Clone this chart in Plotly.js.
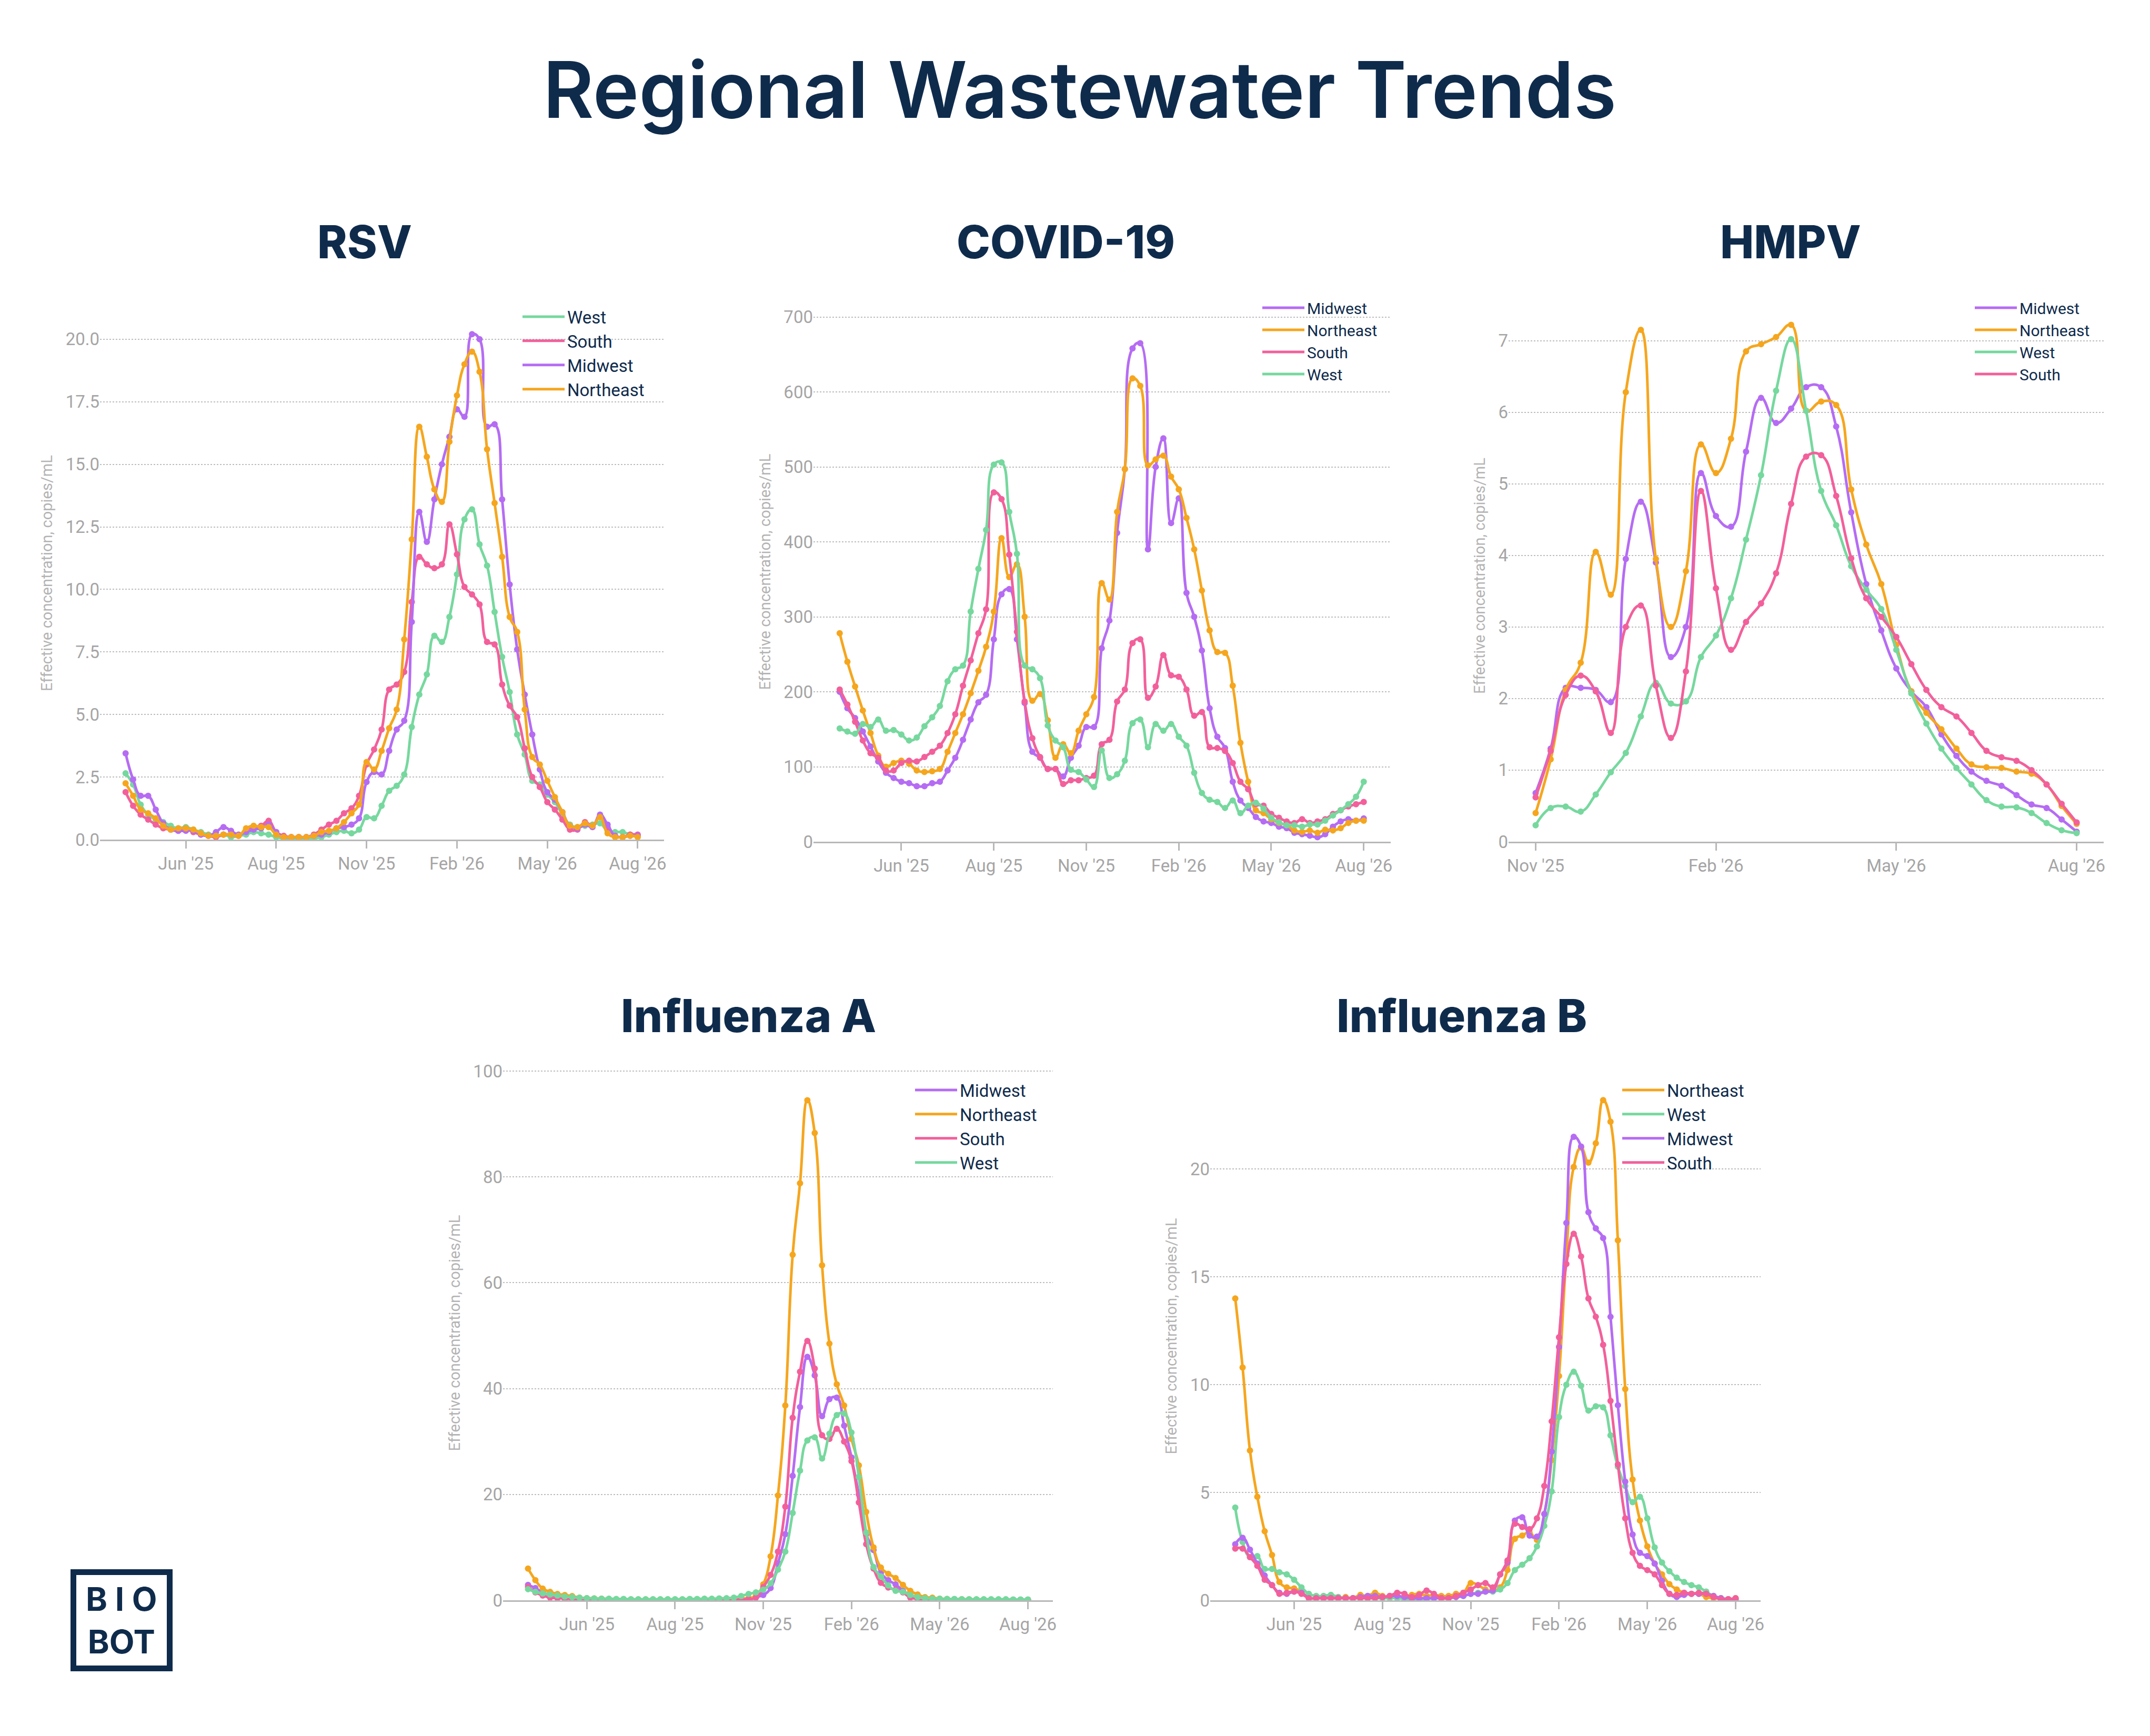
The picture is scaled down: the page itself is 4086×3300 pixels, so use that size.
<!DOCTYPE html>
<html>
<head>
<meta charset="utf-8">
<script src="https://cdn.plot.ly/plotly-3.0.1.min.js"></script>
<style>html,body{margin:0;padding:0;background:#fff}</style>
</head>
<body>
<div id="chart" style="width:4086px;height:3300px"></div>
<script>
var W = 4086, H = 3300;
var NAVY = '#0f2b4c';
var GREY = '#a5a5a5';
var AXIS = '#b8b8b8';
var colors = {West: '#76d89e', South: '#f2609b', Midwest: '#b56cf3', Northeast: '#f5a61e'};

// weekly sample dates, first sample on 2025-04-06
function weekDate(i) {
  var d = new Date(Date.UTC(2025, 3, 6) + i * 7 * 86400000);
  return d.toISOString().replace('T', ' ').slice(0, 19);
}
var weeks = [];
for (var i = 0; i < 69; i++) weeks.push(weekDate(i).slice(0, 10));
var hmpvWeeks = weeks.slice(32);

var tickWeeks = [8, 20, 32, 44, 56, 68];
var tickLabels = ["Jun '25", "Aug '25", "Nov '25", "Feb '26", "May '26", "Aug '26"];
var hmpvTickWeeks = [32, 44, 56, 68];
var hmpvTickLabels = ["Nov '25", "Feb '26", "May '26", "Aug '26"];

// ---- RSV ----
var rsvWest = [2.65,2.2,1.4,1.0,0.8,0.7,0.55,0.45,0.5,0.4,
  0.3,0.2,0.15,0.2,0.1,0.15,0.2,0.3,0.25,0.2,
  0.1,0.05,0.05,0.05,0.05,0.05,0.1,0.2,0.3,0.35,
  0.25,0.4,0.9,0.85,1.35,1.95,2.15,2.6,4.5,5.8,
  6.6,8.15,7.9,8.9,10.6,12.8,13.2,11.8,10.95,9.1,
  7.3,5.9,4.2,3.4,2.35,2.2,1.8,1.5,1.0,0.6,
  0.5,0.55,0.6,0.65,0.35,0.3,0.3,0.2,0.15];
var rsvSouth = [1.9,1.35,1.0,0.8,0.6,0.45,0.4,0.35,0.45,0.3,
  0.2,0.15,0.1,0.2,0.2,0.15,0.4,0.5,0.55,0.75,
  0.3,0.15,0.1,0.1,0.1,0.2,0.4,0.6,0.75,1.05,
  1.25,1.75,3.0,3.6,4.4,6.0,6.2,6.7,9.5,11.3,
  11.0,10.85,11.0,12.6,11.4,10.1,9.8,9.4,7.9,7.8,
  6.2,5.35,4.9,3.65,2.5,2.1,1.5,1.2,0.8,0.4,
  0.4,0.7,0.55,0.95,0.5,0.15,0.1,0.2,0.2];
var rsvMidwest = [3.45,2.4,1.75,1.75,1.2,0.65,0.4,0.35,0.35,0.35,
  0.2,0.15,0.3,0.5,0.35,0.2,0.3,0.4,0.45,0.6,
  0.3,0.1,0.1,0.1,0.1,0.15,0.2,0.3,0.45,0.5,
  0.6,0.85,2.3,2.7,2.6,3.55,4.4,4.75,8.7,13.1,
  11.9,13.6,15.0,16.1,17.2,16.9,20.2,20.0,16.5,16.6,
  13.6,10.2,7.6,5.8,4.2,2.8,1.9,1.6,1.1,0.55,
  0.45,0.6,0.5,1.0,0.6,0.15,0.1,0.15,0.15];
var rsvNortheast = [2.25,1.75,1.2,1.05,0.85,0.55,0.4,0.45,0.45,0.4,
  0.25,0.15,0.15,0.2,0.2,0.15,0.45,0.55,0.5,0.5,
  0.2,0.1,0.1,0.1,0.1,0.15,0.3,0.35,0.45,0.7,
  1.05,1.4,3.1,2.8,3.55,4.45,5.2,8.0,12.0,16.5,
  15.3,14.0,13.5,15.9,17.75,19.0,19.5,18.7,15.6,13.45,
  11.3,8.9,8.3,5.2,3.3,3.0,2.35,1.7,1.1,0.55,
  0.5,0.65,0.55,0.9,0.25,0.1,0.1,0.15,0.1];

// ---- COVID-19 ----
var covMidwest = [200,178,165,147,127,107,92,85,80,78,
  74,74,78,80,95,112,136,163,186,196,
  270,330,337,270,185,120,112,97,97,87,
  112,128,153,153,258,295,412,497,658,665,
  390,500,538,425,458,332,300,255,178,140,
  125,80,55,45,33,27,25,20,18,12,
  10,8,6,10,20,27,30,28,31];
var covNortheast = [278,240,207,175,145,115,100,105,108,104,
  95,93,94,97,120,145,170,198,228,260,
  307,405,353,370,300,188,197,162,112,130,
  118,148,170,193,345,323,440,497,618,608,
  502,510,515,487,470,432,390,335,282,253,
  252,208,132,80,42,38,30,25,22,15,
  13,15,12,16,15,18,25,28,28];
var covSouth = [203,183,160,135,118,112,95,95,105,108,
  107,113,120,128,145,170,208,242,278,310,
  466,457,383,280,187,138,113,97,97,77,
  82,82,85,88,130,136,187,203,265,270,
  192,207,249,222,220,203,168,173,126,125,
  121,105,80,70,50,48,37,32,27,25,
  30,25,27,30,37,42,47,50,53];
var covWest = [151,147,144,157,153,163,148,149,143,135,
  139,154,166,181,214,230,235,307,364,416,
  503,506,440,384,235,230,218,155,135,126,
  96,93,83,73,122,85,90,108,158,163,
  126,157,148,157,140,128,92,65,56,53,
  45,55,38,48,52,44,32,26,22,22,
  20,23,23,28,35,42,50,60,80];

// ---- HMPV (from Nov '25) ----
var hmpvMidwest = [0.68,1.3,2.15,2.15,2.12,1.95,3.95,4.75,3.9,2.58,
  3.0,5.15,4.55,4.4,5.45,6.2,5.85,6.05,6.35,6.35,
  5.8,4.6,3.6,2.95,2.42,2.1,1.88,1.5,1.2,0.98,
  0.85,0.78,0.65,0.52,0.47,0.31,0.14];
var hmpvNortheast = [0.4,1.15,2.12,2.5,4.05,3.45,6.28,7.15,3.95,3.0,
  3.78,5.55,5.15,5.63,6.85,6.95,7.05,7.22,6.02,6.15,
  6.1,4.92,4.15,3.6,2.75,2.1,1.8,1.57,1.3,1.08,
  1.04,1.03,0.98,0.95,0.8,0.5,0.25];
var hmpvWest = [0.23,0.47,0.49,0.42,0.66,0.97,1.24,1.75,2.22,1.93,
  1.96,2.58,2.88,3.4,4.22,5.12,6.3,7.02,6.02,4.9,
  4.42,3.85,3.52,3.25,2.68,2.07,1.65,1.3,1.03,0.8,
  0.58,0.49,0.48,0.4,0.26,0.16,0.12];
var hmpvSouth = [0.62,1.27,2.05,2.32,2.1,1.52,3.0,3.3,2.18,1.45,
  2.38,4.9,3.54,2.68,3.07,3.33,3.75,4.72,5.38,5.4,
  4.83,3.96,3.4,3.14,2.86,2.48,2.12,1.88,1.75,1.52,
  1.27,1.18,1.13,1.0,0.8,0.53,0.27];

// ---- Influenza A ----
var fluAMidwest = [2.9,2.3,1.5,1.0,0.8,0.5,0.4,0.4,0.3,0.2,
  0.2,0.15,0.15,0.1,0.1,0.1,0.1,0.1,0.1,0.1,
  0.1,0.1,0.15,0.15,0.2,0.2,0.2,0.2,0.2,0.25,
  0.3,0.6,1.0,2.3,7.0,12.5,23.5,36.5,46.0,42.5,
  34.8,38.0,38.3,33.0,27.0,20.0,12.5,9.5,5.2,3.8,
  3.0,1.8,1.0,0.5,0.4,0.3,0.25,0.2,0.2,0.15,
  0.15,0.1,0.1,0.1,0.1,0.1,0.1,0.1,0.1];
var fluANortheast = [6.0,3.8,2.2,1.6,1.2,1.0,0.8,0.5,0.4,0.35,
  0.3,0.25,0.2,0.2,0.15,0.15,0.15,0.15,0.15,0.15,
  0.15,0.15,0.2,0.2,0.2,0.2,0.25,0.25,0.3,0.35,
  0.4,0.9,3.0,8.3,19.8,36.8,65.3,78.8,94.5,88.3,
  63.3,48.5,40.8,36.8,30.5,25.5,16.7,10.0,6.2,5.0,
  4.2,2.9,1.8,1.1,0.6,0.5,0.3,0.25,0.2,0.2,
  0.15,0.15,0.1,0.1,0.1,0.1,0.1,0.1,0.1];
var fluASouth = [2.5,1.5,0.9,0.5,0.4,0.3,0.25,0.2,0.2,0.15,
  0.15,0.1,0.1,0.1,0.1,0.1,0.1,0.1,0.1,0.1,
  0.1,0.1,0.1,0.1,0.1,0.1,0.1,0.1,0.1,0.15,
  0.2,0.5,2.5,4.8,9.2,17.7,34.5,43.2,49.0,43.8,
  31.2,30.5,32.4,30.0,26.3,18.5,10.6,6.0,3.3,2.4,
  2.0,1.5,0.5,0.3,0.2,0.2,0.15,0.1,0.1,0.1,
  0.1,0.1,0.1,0.1,0.1,0.1,0.1,0.1,0.1];
var fluAWest = [2.1,1.6,1.3,1.1,0.9,0.7,0.6,0.5,0.4,0.35,
  0.3,0.3,0.25,0.25,0.2,0.2,0.2,0.2,0.2,0.2,
  0.2,0.2,0.25,0.25,0.3,0.3,0.35,0.4,0.5,0.8,
  1.2,1.5,2.0,3.2,5.8,9.2,16.5,24.5,30.2,30.8,
  26.8,31.5,35.0,35.3,31.7,23.3,12.8,6.3,4.5,2.8,
  1.8,1.6,1.0,0.6,0.4,0.3,0.3,0.25,0.25,0.2,
  0.2,0.2,0.2,0.2,0.2,0.2,0.15,0.15,0.15];

// ---- Influenza B ----
var fluBNortheast = [14.0,10.8,6.95,4.8,3.2,2.1,0.85,0.6,0.55,0.4,
  0.1,0.1,0.15,0.1,0.1,0.15,0.1,0.25,0.2,0.35,
  0.2,0.15,0.2,0.15,0.25,0.3,0.2,0.25,0.2,0.2,
  0.3,0.35,0.8,0.7,0.5,0.45,0.6,1.4,2.85,3.0,
  3.15,2.8,4.0,6.5,10.4,16.0,20.1,21.0,20.3,21.2,
  23.2,22.2,16.7,9.8,5.6,3.7,2.5,1.7,1.2,0.75,
  0.5,0.35,0.3,0.3,0.15,0.1,0.1,0.05,0.1];
var fluBWest = [4.3,2.7,2.0,2.05,1.45,1.45,1.3,1.2,0.95,0.6,
  0.3,0.2,0.2,0.25,0.15,0.1,0.1,0.1,0.1,0.1,
  0.1,0.1,0.1,0.05,0.05,0.05,0.05,0.1,0.1,0.1,
  0.15,0.2,0.3,0.35,0.4,0.4,0.5,0.8,1.4,1.65,
  1.95,2.5,3.45,5.05,8.5,10.0,10.6,9.95,8.8,9.0,
  8.95,7.65,6.2,5.3,4.55,4.8,3.8,2.45,1.75,1.35,
  1.05,0.85,0.7,0.6,0.4,0.2,0.1,0.05,0.05];
var fluBMidwest = [2.6,2.9,2.35,1.7,1.15,0.7,0.35,0.3,0.4,0.35,
  0.1,0.1,0.1,0.1,0.1,0.1,0.1,0.15,0.2,0.2,
  0.15,0.2,0.2,0.15,0.1,0.1,0.1,0.1,0.1,0.1,
  0.15,0.2,0.3,0.3,0.4,0.45,1.2,1.75,3.7,3.85,
  3.0,2.95,4.0,6.9,11.75,17.5,21.5,21.05,18.0,17.25,
  16.8,13.15,9.05,5.5,3.05,2.2,2.05,1.7,0.9,0.3,
  0.15,0.25,0.3,0.3,0.3,0.2,0.1,0.05,0.05];
var fluBSouth = [2.4,2.4,2.0,1.6,0.95,0.7,0.3,0.35,0.4,0.3,
  0.1,0.1,0.1,0.1,0.1,0.1,0.1,0.1,0.1,0.1,
  0.15,0.2,0.35,0.3,0.15,0.25,0.45,0.3,0.1,0.1,
  0.2,0.35,0.5,0.7,0.8,0.6,1.2,1.85,3.55,3.4,
  3.3,3.8,5.3,8.3,12.2,15.6,17.0,15.95,14.0,13.15,
  11.85,9.25,6.3,3.8,2.2,1.6,1.4,1.2,0.7,0.3,
  0.25,0.35,0.3,0.35,0.3,0.15,0.05,0.05,0.1];

// panel placement in pixels: box = [left, right, top, bottom]
var charts = [
  {title: 'RSV', x: weeks, box: [190, 1262, 583, 1596], yrange: [0, 21.3], dtick: 2.5, fmt: '.1f',
   xr: [-3.4, 71.5], ticks: tickWeeks, labels: tickLabels, titleAt: [693, 460],
   legendAt: [988, 574], legendSize: 33,
   series: [['West', rsvWest], ['South', rsvSouth], ['Midwest', rsvMidwest], ['Northeast', rsvNortheast]]},
  {title: 'COVID-19', x: weeks, box: [1546, 2643, 574, 1600], yrange: [0, 720], dtick: 100, fmt: 'd',
   xr: [-3.4, 71.5], ticks: tickWeeks, labels: tickLabels, titleAt: [2025, 460],
   legendAt: [2394, 559], legendSize: 30,
   series: [['Midwest', covMidwest], ['Northeast', covNortheast], ['South', covSouth], ['West', covWest]]},
  {title: 'HMPV', x: hmpvWeeks, box: [2867, 3998, 589, 1600], yrange: [0, 7.43], dtick: 1, fmt: 'd',
   xr: [30.2, 69.8], ticks: hmpvTickWeeks, labels: hmpvTickLabels, titleAt: [3403, 460],
   legendAt: [3748, 559], legendSize: 30,
   series: [['Midwest', hmpvMidwest], ['Northeast', hmpvNortheast], ['West', hmpvWest], ['South', hmpvSouth]]},
  {title: 'Influenza A', x: weeks, box: [956, 2001, 2026, 3042], yrange: [0, 101], dtick: 20, fmt: 'd',
   xr: [-3.4, 71.4], ticks: tickWeeks, labels: tickLabels, titleAt: [1422, 1931],
   legendAt: [1734, 2044], legendSize: 33,
   series: [['Midwest', fluAMidwest], ['Northeast', fluANortheast], ['South', fluASouth], ['West', fluAWest]]},
  {title: 'Influenza B', x: weeks, box: [2300, 3346, 2038, 3042], yrange: [0, 24.5], dtick: 5, fmt: 'd',
   xr: [-3.4, 71.4], ticks: tickWeeks, labels: tickLabels, titleAt: [2778, 1931],
   legendAt: [3078, 2044], legendSize: 33,
   series: [['Northeast', fluBNortheast], ['West', fluBWest], ['Midwest', fluBMidwest], ['South', fluBSouth]]}
];

var traces = [];
var layout = {
  width: W, height: H,
  margin: {l: 0, r: 0, t: 0, b: 0},
  paper_bgcolor: '#fff', plot_bgcolor: '#fff',
  font: {family: 'Roboto', color: NAVY},
  showlegend: true,
  annotations: [],
  shapes: []
};

var tickFont = {family: 'Roboto', size: 33, color: GREY};

charts.forEach(function (c, k) {
  var n = k === 0 ? '' : String(k + 1);
  var xa = 'x' + n, ya = 'y' + n;
  var legendId = 'legend' + n;

  c.series.forEach(function (s) {
    var name = s[0], y = s[1];
    traces.push({
      type: 'scatter', mode: 'lines', name: name, x: c.x, y: y,
      xaxis: xa, yaxis: ya, legend: legendId, hoverinfo: 'skip',
      line: {color: colors[name], width: 5, shape: 'spline', smoothing: 1.3}
    });
    traces.push({
      type: 'scatter', mode: 'markers', name: name, x: c.x, y: y,
      xaxis: xa, yaxis: ya, legend: legendId, showlegend: false,
      marker: {color: colors[name], size: 12}
    });
  });

  layout['xaxis' + n] = {
    type: 'date', anchor: ya,
    domain: [c.box[0] / W, c.box[1] / W],
    range: [weekDate(c.xr[0]), weekDate(c.xr[1])],
    tickmode: 'array',
    tickvals: c.ticks.map(function (t) { return weeks[t]; }),
    ticktext: c.labels,
    ticks: 'outside', ticklen: 14, tickwidth: 3, tickcolor: AXIS,
    showline: true, linecolor: AXIS, linewidth: 3,
    showgrid: false, zeroline: false,
    tickfont: tickFont
  };
  layout['yaxis' + n] = {
    anchor: xa,
    domain: [1 - c.box[3] / H, 1 - c.box[2] / H],
    range: c.yrange, tick0: 0, dtick: c.dtick, tickformat: c.fmt,
    showgrid: true, gridcolor: '#bdbdbd', gridwidth: 2, griddash: 'dot',
    zeroline: false, showline: false, ticks: '',
    tickfont: tickFont,
    title: {text: 'Effective concentration, copies/mL', standoff: 16,
            font: {family: 'Roboto', size: 29, color: '#b3b3b3'}}
  };
  layout[legendId] = {
    x: c.legendAt[0] / W, y: 1 - c.legendAt[1] / H,
    xanchor: 'left', yanchor: 'top',
    bgcolor: 'rgba(0,0,0,0)', borderwidth: 0,
    itemwidth: 80, traceorder: 'normal',
    font: {family: 'Roboto', size: c.legendSize, color: NAVY}
  };
  layout.annotations.push({
    text: c.title, xref: 'paper', yref: 'paper',
    x: c.titleAt[0] / W, y: 1 - c.titleAt[1] / H,
    xanchor: 'center', yanchor: 'middle', showarrow: false,
    font: {family: 'Inter', size: 86, weight: 800, color: NAVY}
  });
});

// main title
layout.annotations.push({
  text: 'Regional Wastewater Trends', xref: 'paper', yref: 'paper',
  x: 2052 / W, y: 1 - 170 / H, xanchor: 'center', yanchor: 'middle', showarrow: false,
  font: {family: 'Inter', size: 148, weight: 600, color: NAVY}
});

// BIOBOT logo
layout.shapes.push({
  type: 'rect', xref: 'paper', yref: 'paper',
  x0: 139.5 / W, x1: 322.5 / W, y0: 1 - 3171.5 / H, y1: 1 - 2988.5 / H,
  line: {color: NAVY, width: 11}, fillcolor: 'rgba(0,0,0,0)'
});
layout.annotations.push({
  text: 'B I O<br>BOT', xref: 'paper', yref: 'paper', x: 231 / W, y: 1 - 3080 / H,
  xanchor: 'center', yanchor: 'middle', showarrow: false, align: 'center',
  font: {family: 'Inter', size: 62, weight: 700, color: NAVY}
});

Plotly.newPlot('chart', traces, layout, {displayModeBar: false, staticPlot: true});
</script>
</body>
</html>
